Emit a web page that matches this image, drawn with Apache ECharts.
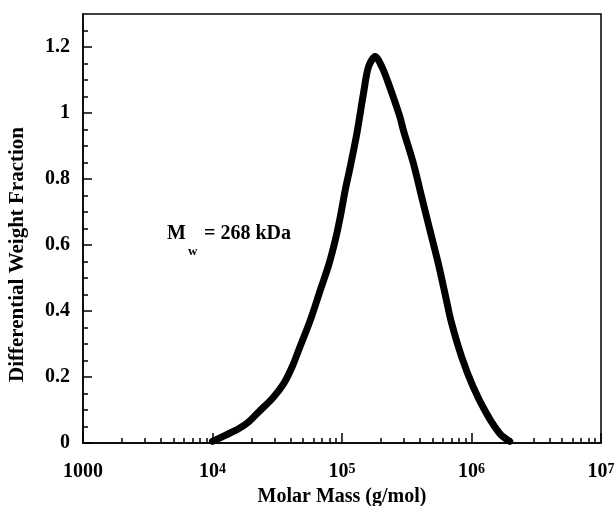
<!DOCTYPE html>
<html>
<head>
<meta charset="utf-8">
<script src="https://cdn.jsdelivr.net/npm/echarts@6/dist/echarts.min.js"></script>
<style>
  html, body { margin: 0; padding: 0; background: #fff; }
  #chart { width: 616px; height: 506px; }
</style>
</head>
<body>
<div id="chart"></div>
<script>
// molar mass (g/mol) and differential weight fraction
const molarMass = [10000, 12650, 16020, 19140, 22830, 28950, 35570, 41240, 46350, 57040,
  68070, 78880, 88780, 97050, 106000, 115800, 130400, 146600, 160200, 180400,
  203100, 228200, 279000, 297800, 355600, 412100, 477500, 553300, 623400, 701800,
  837500, 1028000, 1303000, 1651000, 1972000]
const weightFraction = [0.005, 0.024, 0.044, 0.065, 0.095, 0.135, 0.181, 0.231, 0.282, 0.373,
  0.464, 0.539, 0.615, 0.686, 0.767, 0.837, 0.939, 1.06, 1.14, 1.171,
  1.14, 1.09, 0.99, 0.948, 0.848, 0.746, 0.645, 0.545, 0.454, 0.363,
  0.262, 0.171, 0.09, 0.029, 0.005]

// axis ticks
const xMajorTicks = [1000, 10000, 100000, 1000000, 10000000]
const xMinorTicks = [2000, 3000, 4000, 5000, 6000, 7000, 8000, 9000,
  20000, 30000, 40000, 50000, 60000, 70000, 80000, 90000,
  200000, 300000, 400000, 500000, 600000, 700000, 800000, 900000,
  2000000, 3000000, 4000000, 5000000, 6000000, 7000000, 8000000, 9000000]
const yMajorTicks = [0, 0.2, 0.4, 0.6, 0.8, 1, 1.2]
const yMinorTicks = [0.05, 0.1, 0.15, 0.25, 0.3, 0.35, 0.45, 0.5, 0.55, 0.65, 0.7, 0.75,
  0.85, 0.9, 0.95, 1.05, 1.1, 1.15, 1.25]

const serif = '"Liberation Serif", "DejaVu Serif", serif'

const dom = document.getElementById('chart')
const chart = echarts.init(dom)

const lineBlack = { color: '#000', width: 1.5 }
const boldText = (size) => ({ fontFamily: serif, fontWeight: 'bold', fontSize: size, fill: '#000' })

let option = {
  animation: false,
  grid: {
    left: 83,
    top: 14,
    right: 15,
    bottom: 63,
    containLabel: false,
    outerBoundsMode: 'none',
    show: true,
    borderColor: '#000',
    borderWidth: 1.5,
  },
  xAxis: [
    {
      type: 'log',
      logBase: 10,
      min: 1000,
      max: 10000000,
      position: 'bottom',
      name: 'Molar Mass (g/mol)',
      nameLocation: 'middle',
      nameGap: 43,
      nameTextStyle: { fontFamily: serif, fontWeight: 'bold', fontSize: 20, color: '#000' },
      axisLine: { show: true, lineStyle: lineBlack },
      axisTick: { show: true, inside: true, length: 10, lineStyle: lineBlack, customValues: xMajorTicks },
      axisLabel: {
        customValues: xMajorTicks,
        margin: 19,
        color: '#000',
        fontFamily: serif,
        fontWeight: 'bold',
        fontSize: 20,
        formatter: (v) => {
          if (v <= 1000) return '{b|1000}'
          return '{b|10}{s|' + Math.round(Math.log10(v)) + '}'
        },
        rich: {
          b: { fontFamily: serif, fontWeight: 'bold', fontSize: 20, lineHeight: 20, color: '#000' },
          s: { fontFamily: serif, fontWeight: 'bold', fontSize: 14, lineHeight: 14, verticalAlign: 'top', color: '#000' },
        },
      },
      splitLine: { show: false },
    },
    {
      type: 'log',
      logBase: 10,
      min: 1000,
      max: 10000000,
      position: 'bottom',
      axisLine: { show: false },
      axisTick: { show: true, inside: true, length: 5, lineStyle: lineBlack, customValues: xMinorTicks },
      axisLabel: { show: false },
      splitLine: { show: false },
    },
  ],
  yAxis: [
    {
      type: 'value',
      min: 0,
      max: 1.3,
      position: 'left',
      name: 'Differential Weight Fraction',
      nameLocation: 'middle',
      nameGap: 55,
      nameTextStyle: {
        fontFamily: serif,
        fontWeight: 'bold',
        fontSize: 21,
        color: '#000',
        padding: [0, 52, 0, 0],
      },
      axisLine: { show: true, lineStyle: lineBlack },
      axisTick: { show: true, inside: true, length: 9, lineStyle: lineBlack, customValues: yMajorTicks },
      axisLabel: {
        customValues: yMajorTicks,
        margin: 13,
        color: '#000',
        fontFamily: serif,
        fontWeight: 'bold',
        fontSize: 20,
      },
      splitLine: { show: false },
    },
    {
      type: 'value',
      min: 0,
      max: 1.3,
      position: 'left',
      axisLine: { show: false },
      axisTick: { show: true, inside: true, length: 5, lineStyle: lineBlack, customValues: yMinorTicks },
      axisLabel: { show: false },
      splitLine: { show: false },
    },
  ],
  graphic: [
    {
      type: 'group',
      left: 167,
      top: 224,
      children: [
        { type: 'text', x: 0, y: 0, style: Object.assign({ text: 'M' }, boldText(20)) },
        { type: 'text', x: 21, y: 21, style: Object.assign({ text: 'w' }, boldText(13)) },
        { type: 'text', x: 37, y: 0, style: Object.assign({ text: '= 268 kDa' }, boldText(20)) },
      ],
    },
  ],
  series: [
    {
      type: 'line',
      xAxisIndex: 0,
      yAxisIndex: 0,
      data: molarMass.map((m, i) => [m, weightFraction[i]]),
      showSymbol: false,
      smooth: 0.3,
      lineStyle: { color: '#000', width: 7, cap: 'round', join: 'round' },
    },
  ],
}

chart.setOption(option)

window.addEventListener('resize', () => {
  chart.resize()
})
</script>
</body>
</html>
